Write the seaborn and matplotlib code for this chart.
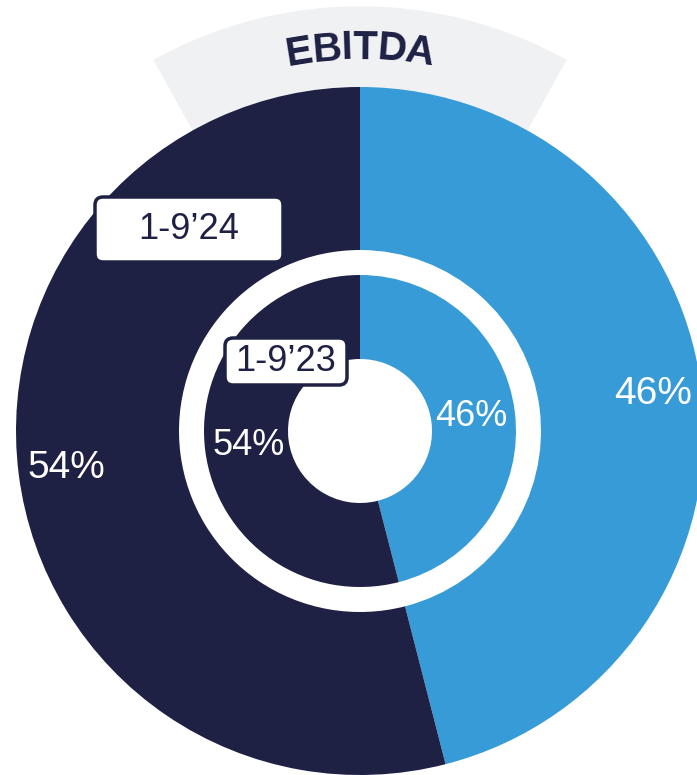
import matplotlib
matplotlib.use('Agg')
import numpy as np
import matplotlib.pyplot as plt
import seaborn as sns
from matplotlib.patches import Wedge, FancyBboxPatch
from matplotlib.font_manager import FontProperties
from matplotlib.textpath import text_to_path

sns.set_style("white")
plt.rcParams['font.family'] = ['Liberation Sans', 'DejaVu Sans']

# Dados
titulo = 'EBITDA'
periodos = ['1-9\u201924', '1-9\u201923']
valores_24 = [46, 54]
valores_23 = [46, 54]
cores = ['#369BD6', '#1E2044']
navy = '#1E2044'

fig = plt.figure(figsize=(6.97, 7.75), dpi=100)
ax = fig.add_axes([0, 0, 1, 1])

cx, cy = 360, 344
r_out, r_ring, r_in, r_hole = 344, 181, 156, 72

# faixa cinza atras do titulo
ax.add_patch(Wedge((cx, cy), 424, 61, 119, width=100, color='#F0F1F3', zorder=0))

# anel externo (1-9'24)
ax.pie(valores_24, colors=cores, startangle=90, counterclock=False,
       radius=r_out, center=(cx, cy), frame=True,
       autopct='%.0f%%', pctdistance=0.86,
       wedgeprops=dict(width=r_out - r_ring, linewidth=0),
       textprops=dict(color='white', fontsize=28))

# anel interno (1-9'23)
ax.pie(valores_23, colors=cores, startangle=90, counterclock=False,
       radius=r_in, center=(cx, cy), frame=True,
       autopct='%.0f%%', pctdistance=0.72,
       wedgeprops=dict(width=r_in - r_hole, linewidth=0),
       textprops=dict(color='white', fontsize=26))

ax.set_xlim(0, 697)
ax.set_ylim(0, 775)
ax.set_aspect('equal')
ax.axis('off')

# caixas com os periodos
caixas = [(95, 513, 188, 65), (225, 390, 122, 47)]
for (x0, y0, w, h), rotulo in zip(caixas, periodos):
    ax.add_patch(FancyBboxPatch((x0, y0), w, h, boxstyle='round,pad=0,rounding_size=8',
                                fc='white', ec=navy, lw=2.5, zorder=5))
    ax.text(x0 + w / 2, y0 + h / 2, rotulo, ha='center', va='center',
            fontsize=26, color=navy, zorder=6)

# titulo curvado
fp = FontProperties(family='Liberation Sans', weight='bold', size=29)
larg = [text_to_path.get_text_width_height_descent(c, fp, ismath=False)[0] * 100 / 72
        for c in titulo]
total = sum(larg)
R = 383
pos = 0
for c, w in zip(titulo, larg):
    meio = pos + w / 2
    ang = np.pi / 2 + (total / 2 - meio) / R
    ax.text(cx + R * np.cos(ang), cy + R * np.sin(ang), c, fontproperties=fp,
            color=navy, ha='center', va='center',
            rotation=np.degrees(ang) - 90, rotation_mode='anchor', zorder=4)
    pos += w

fig.savefig('out.png', dpi=100)
